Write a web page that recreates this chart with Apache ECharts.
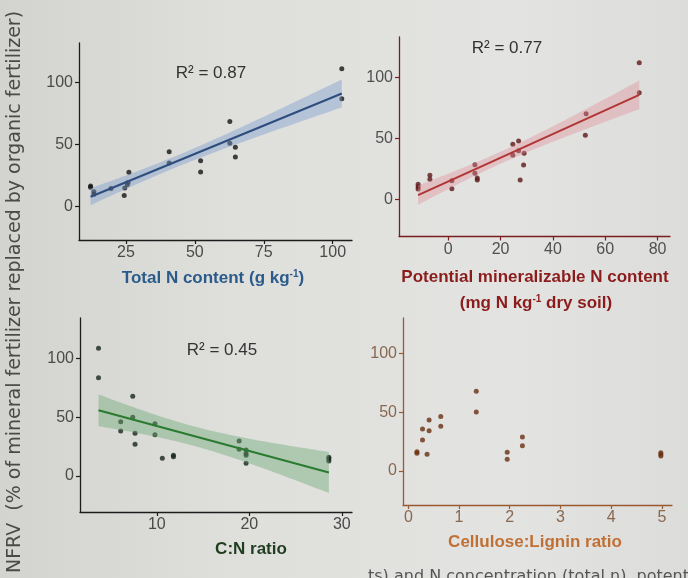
<!DOCTYPE html>
<html>
<head>
<meta charset="utf-8">
<script src="https://cdn.jsdelivr.net/npm/echarts@6/dist/echarts.min.js"></script>
<style>
  html, body { margin: 0; padding: 0; background: #dfdfdc; }
  #chart { width: 688px; height: 578px; }
</style>
</head>
<body>
<div id="chart"></div>
<script>
// NFRV (% of mineral fertilizer replaced) against four properties of the organic fertilizers

// (a) total N content, g/kg
const totalNX = [12.2, 12.2, 13.4, 13.4, 19.6, 24.4, 24.6, 25.5, 25.8, 26.1, 40.7, 40.7, 52.1, 52.1, 62.7, 62.7, 64.7, 64.7, 103.3, 103.3];
const totalNY = [16.5, 15.5, 12.0, 10.0, 14.6, 8.9, 14.9, 17.6, 19.5, 27.6, 44.3, 35.2, 37.0, 27.8, 68.6, 51.1, 47.8, 40.0, 111.3, 87.0];

// (b) potential mineralizable N, mg N/kg dry soil
const pmnX = [-11.5, -11.5, -11.5, -7.0, -7.0, 1.4, 1.4, 10.2, 10.2, 11.1, 11.1, 24.7, 24.7, 26.9, 26.9, 27.5, 29.0, 28.8, 52.7, 52.4, 73.0, 73.0];
const pmnY = [12.3, 10.4, 8.5, 19.7, 16.5, 15.3, 8.7, 28.5, 21.4, 17.5, 15.9, 45.2, 36.2, 47.9, 40.0, 15.9, 37.8, 28.2, 70.4, 52.6, 112.3, 87.7];

// (c) C:N ratio
const cnX = [3.7, 3.7, 6.1, 6.1, 7.4, 7.4, 7.65, 7.65, 9.8, 9.8, 10.6, 11.8, 11.8, 18.9, 18.9, 19.65, 19.65, 19.65, 19.65, 28.6, 28.6, 28.6];
const cnY = [108.5, 83.5, 46.1, 38.2, 67.7, 49.9, 36.3, 26.9, 44.4, 35.1, 15.0, 17.6, 16.4, 29.7, 22.7, 22.1, 19.3, 17.6, 10.8, 15.9, 14.7, 12.7];

// (d) cellulose:lignin ratio
const clX = [0.17, 0.17, 0.28, 0.28, 0.37, 0.41, 0.41, 0.64, 0.64, 1.34, 1.34, 1.95, 1.95, 2.25, 2.25, 4.98, 4.98, 4.98];
const clY = [16.4, 15.0, 35.7, 26.3, 14.2, 43.3, 34.2, 46.2, 38.0, 67.7, 50.1, 15.9, 9.9, 28.9, 21.5, 15.6, 14.2, 12.7];

// tick values
const yTicks = [0, 50, 100];
const totalNTicks = [25, 50, 75, 100];
const pmnTicks = [0, 20, 40, 60, 80];
const cnTicks = [10, 20, 30];
const clTicks = [0, 1, 2, 3, 4, 5];

const r2Labels = ['R² = 0.87', 'R² = 0.77', 'R² = 0.45'];

// Ordinary least squares with a 95% confidence band for the mean
function linearFit(xs, ys, steps) {
  const n = xs.length;
  const mx = xs.reduce((s, v) => s + v, 0) / n;
  const my = ys.reduce((s, v) => s + v, 0) / n;
  let sxx = 0, sxy = 0;
  for (let i = 0; i < n; i++) {
    sxx += (xs[i] - mx) * (xs[i] - mx);
    sxy += (xs[i] - mx) * (ys[i] - my);
  }
  const b = sxy / sxx, a = my - b * mx;
  let sse = 0;
  for (let i = 0; i < n; i++) { const r = ys[i] - (a + b * xs[i]); sse += r * r; }
  const df = n - 2;
  const s = Math.sqrt(sse / df);
  const z = 1.959964;
  const t = z + (Math.pow(z, 3) + z) / (4 * df) + (5 * Math.pow(z, 5) + 16 * Math.pow(z, 3) + 3 * z) / (96 * df * df);
  const x0 = Math.min(...xs), x1 = Math.max(...xs);
  const upper = [], lower = [];
  for (let k = 0; k <= steps; k++) {
    const x = x0 + (x1 - x0) * k / steps;
    const yh = a + b * x;
    const h = t * s * Math.sqrt(1 / n + (x - mx) * (x - mx) / sxx);
    upper.push([x, yh + h]);
    lower.push([x, yh - h]);
  }
  return { line: [[x0, a + b * x0], [x1, a + b * x1]], upper, lower };
}

const fitA = linearFit(totalNX, totalNY, 60);
const fitB = linearFit(pmnX, pmnY, 60);
const fitC = linearFit(cnX, cnY, 60);

const pairs = (xs, ys) => xs.map((x, i) => [x, ys[i]]);

const gridBoxes = [
  { left: 79, top: 43, width: 273, height: 197 },
  { left: 399, top: 37, width: 271, height: 199.5 },
  { left: 80, top: 318, width: 272, height: 194 },
  { left: 403, top: 318, width: 269, height: 187 }
];

const xRanges = [[8, 107], [-18.8, 84.75], [1.7, 31.1], [-0.105, 5.2]];
const yRanges = [[-27, 132], [-30.6, 133.5], [-30.6, 134.2], [-28.9, 130]];
const xTickSets = [totalNTicks, pmnTicks, cnTicks, clTicks];
const axisColors = ['#1c1c1c', '#7a1f1f', '#1c1c1c', '#9a5a30'];
const labelColors = ['#4a4a4a', '#505050', '#4a4a4a', '#8a6850'];
const pointColors = ['#141414', '#5c1616', '#18261a', '#6a3012'];

function axisCommon(i) {
  return {
    axisLine: { show: true, onZero: false, lineStyle: { color: axisColors[i], width: 1.3 } },
    axisTick: { show: true, inside: false, length: 4, lineStyle: { color: axisColors[i], width: 1.2 } },
    splitLine: { show: false },
    axisLabel: { color: labelColors[i], fontFamily: 'Liberation Sans', fontSize: 16 }
  };
}

const xAxes = [0, 1, 2, 3].map(i => {
  const c = axisCommon(i);
  c.axisTick.customValues = xTickSets[i];
  c.axisLabel.customValues = xTickSets[i];
  c.axisLabel.margin = 5;
  return Object.assign({ type: 'value', gridIndex: i, min: xRanges[i][0], max: xRanges[i][1] }, c);
});
const yAxes = [0, 1, 2, 3].map(i => {
  const c = axisCommon(i);
  c.axisTick.customValues = yTicks;
  c.axisLabel.customValues = yTicks;
  c.axisLabel.margin = 6;
  return Object.assign({ type: 'value', gridIndex: i, min: yRanges[i][0], max: yRanges[i][1] }, c);
});

function scatter(i, xs, ys) {
  return {
    type: 'scatter', xAxisIndex: i, yAxisIndex: i, data: pairs(xs, ys),
    symbolSize: 5, itemStyle: { color: pointColors[i] }, z: 2, silent: true
  };
}
function band(i, fit, fill) {
  const mid = fit.upper[Math.floor(fit.upper.length / 2)];
  return {
    type: 'custom', xAxisIndex: i, yAxisIndex: i, data: [mid], z: 3, silent: true,
    renderItem: function (params, api) {
      const pts = fit.upper.map(p => api.coord(p))
        .concat(fit.lower.slice().reverse().map(p => api.coord(p)));
      return { type: 'polygon', shape: { points: pts }, style: { fill: fill } };
    }
  };
}
function fitLine(i, fit, color) {
  return {
    type: 'line', xAxisIndex: i, yAxisIndex: i, data: fit.line, showSymbol: false,
    lineStyle: { color: color, width: 2 }, z: 4, silent: true
  };
}

const titleFont = { fontFamily: 'Liberation Sans', fontWeight: 'bold', fontSize: 17 };
function richTitle(x, y, parts, color) {
  return {
    type: 'text', x: x, y: y, silent: true,
    style: {
      text: parts, align: 'center', verticalAlign: 'middle',
      rich: {
        n: Object.assign({ fill: color }, titleFont),
        s: { fill: color, fontFamily: 'Liberation Sans', fontWeight: 'bold', fontSize: 10, verticalAlign: 'top', padding: [0, 0, 8, 0] }
      }
    }
  };
}
function plainText(x, y, text, color, font, extra) {
  return Object.assign({
    type: 'text', x: x, y: y, silent: true,
    style: Object.assign({ text: text, fill: color, align: 'center', verticalAlign: 'middle' }, font)
  }, extra || {});
}
const r2Font = { fontFamily: 'Liberation Sans', fontSize: 17 };

const option = {
  animation: false,
  backgroundColor: {
    type: 'linear', x: 0, y: 0, x2: 1, y2: 0,
    colorStops: [
      { offset: 0, color: '#d3d3d0' },
      { offset: 0.35, color: '#dfdfdc' },
      { offset: 0.75, color: '#e3e3e1' },
      { offset: 1, color: '#dcdcda' }
    ]
  },
  grid: gridBoxes,
  xAxis: xAxes,
  yAxis: yAxes,
  series: [
    scatter(0, totalNX, totalNY),
    band(0, fitA, 'rgba(120,155,205,0.42)'),
    fitLine(0, fitA, '#2e4d7e'),
    scatter(1, pmnX, pmnY),
    band(1, fitB, 'rgba(225,140,150,0.38)'),
    fitLine(1, fitB, '#b03535'),
    scatter(2, cnX, cnY),
    band(2, fitC, 'rgba(105,170,115,0.42)'),
    fitLine(2, fitC, '#2a7a30'),
    scatter(3, clX, clY)
  ],
  graphic: [
    plainText(211, 73, r2Labels[0], '#333333', r2Font),
    plainText(507, 48, r2Labels[1], '#333333', r2Font),
    plainText(222, 350, r2Labels[2], '#333333', r2Font),
    richTitle(213, 278, '{n|Total N content (g kg}{s|-1}{n|)}', '#2b5b8b'),
    plainText(535, 277, 'Potential mineralizable N content', '#8b1c1c', titleFont),
    richTitle(536, 303, '{n|(mg N kg}{s|-1}{n| dry soil)}', '#8b1c1c'),
    plainText(251, 549, 'C:N ratio', '#1f3d1f', titleFont),
    plainText(535, 542, 'Cellulose:Lignin ratio', '#c07035', titleFont),
    plainText(15, 292, 'NFRV  (% of mineral fertilizer replaced by organic fertilizer)', '#4a4a4a',
      { fontFamily: 'DejaVu Sans', fontSize: 19 }, { rotation: Math.PI / 2 }),
    {
      type: 'text', x: 368, y: 569, silent: true,
      style: { text: 'ts) and N concentration (total n), potent', fill: '#555555',
        fontFamily: 'DejaVu Sans', fontSize: 16, align: 'left', verticalAlign: 'top' }
    }
  ]
};

const chart = echarts.init(document.getElementById('chart'), null, { renderer: 'canvas' });
chart.setOption(option);
</script>
</body>
</html>
